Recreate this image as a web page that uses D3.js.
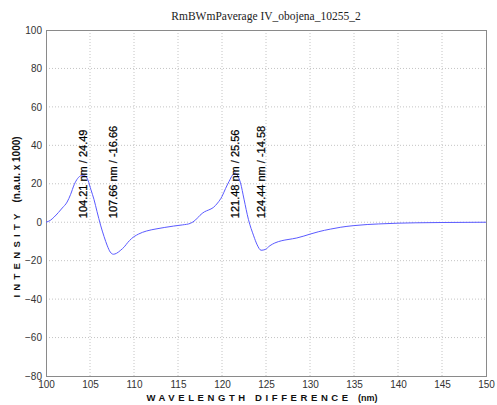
<!DOCTYPE html>
<html>
<head>
<meta charset="utf-8">
<script src="https://cdn.jsdelivr.net/npm/d3@7/dist/d3.min.js"></script>
<style>
  html, body { margin: 0; padding: 0; background: #fff; }
  svg { display: block; }
  .tick text { font-family: Arial, "Liberation Sans", sans-serif; font-size: 10px; fill: #333; }
</style>
</head>
<body>
<svg id="chart" width="497" height="405"></svg>
<script>
// Spectrum: wavelength difference (nm) vs intensity (n.a.u. x 1000)
const wavelength = [100, 100.5, 100.9, 101.4, 101.85, 102.4, 102.8, 103.2, 103.6, 104.0, 104.21, 104.5, 104.8, 105.1,
  105.45, 105.8, 106.2, 106.6, 106.97, 107.3, 107.66, 108.0, 108.5, 108.9, 109.3, 109.7, 110.5, 111.4, 112.5, 113.5,
  114.5, 115.5, 116.4, 117.0, 117.5, 118.0, 118.5, 119.0, 119.5, 120.0, 120.4, 120.8, 121.2, 121.48, 121.8, 122.1,
  122.5, 123.0, 123.6, 124.0, 124.44, 124.9, 125.45, 126.0, 126.8, 127.5, 128.5, 129.3, 130.0, 131.0, 132.3, 133.5,
  134.9, 136.5, 137.8, 140, 142, 145, 150];
const intensity = [0, 1, 2.6, 5, 7.4, 10.5, 14.5, 19.5, 22.8, 24.3, 24.49, 24.0, 21.5, 17,
  11.9, 5.5, -1.5, -7.5, -12.3, -15.5, -16.66, -16.2, -14.5, -12.8, -10.5, -8.6, -6.2, -4.6, -3.5, -2.7,
  -2, -1.4, -0.6, 1.2, 3.6, 5.4, 6.4, 7.6, 10, 13.4, 17.5, 21.2, 24.5, 25.56, 24.0, 20.5,
  12, 1.5, -7.1, -11.8, -14.58, -14.2, -12.2, -10.8, -9.6, -9.0, -8.2, -7.2, -6.2, -4.9, -3.6, -2.6,
  -1.8, -1.2, -0.9, -0.5, -0.3, -0.15, 0];

// Annotated extrema
const peakX = [104.21, 107.66, 121.48, 124.44];
const peakY = [24.49, -16.66, 25.56, -14.58];

const xTicks = [100, 105, 110, 115, 120, 125, 130, 135, 140, 145, 150];
const yTicks = [-80, -60, -40, -20, 0, 20, 40, 60, 80, 100];

const titleText = "RmBWmPaverage IV_obojena_10255_2";

const margin = { left: 46, right: 11, top: 30, bottom: 29 };
const W = 497, H = 405;
const svg = d3.select("#chart");

const x = d3.scaleLinear().domain([100, 150]).range([margin.left, W - margin.right]);
const y = d3.scaleLinear().domain([-80, 100]).range([H - margin.bottom, margin.top]);

// grid
const grid = svg.append("g");
grid.selectAll(".gx").data(xTicks.slice(1, -1)).join("line")
  .attr("x1", d => x(d)).attr("x2", d => x(d))
  .attr("y1", y(-80)).attr("y2", y(100))
  .attr("stroke", "#c4c4c4").attr("stroke-width", 1).attr("stroke-dasharray", "1,2");
grid.selectAll(".gy").data(yTicks.slice(1, -1)).join("line")
  .attr("x1", x(100)).attr("x2", x(150))
  .attr("y1", d => y(d)).attr("y2", d => y(d))
  .attr("stroke", "#c4c4c4").attr("stroke-width", 1).attr("stroke-dasharray", "1,2");

// axes
const xAxis = svg.append("g").attr("transform", `translate(0,${y(-80)})`)
  .call(d3.axisBottom(x).tickValues(xTicks).tickSize(0).tickPadding(5).tickFormat(d3.format("d")));
const yAxis = svg.append("g").attr("transform", `translate(${x(100)},0)`)
  .call(d3.axisLeft(y).tickValues(yTicks).tickSize(0).tickPadding(4).tickFormat(d3.format("d")));
[xAxis, yAxis].forEach(a => a.select(".domain").remove());

// frame
svg.append("rect")
  .attr("x", x(100) + 0.5).attr("y", y(100) + 0.5)
  .attr("width", x(150) - x(100)).attr("height", y(-80) - y(100))
  .attr("fill", "none").attr("stroke", "#8a8a8a").attr("stroke-width", 1);

// curve
const pts = wavelength.map((w, i) => [w, intensity[i]]);
svg.append("path")
  .datum(pts)
  .attr("fill", "none")
  .attr("stroke", "#5a5aff")
  .attr("stroke-width", 1)
  .attr("d", d3.line().x(d => x(d[0])).y(d => y(d[1])).curve(d3.curveMonotoneX));

// extrema labels
svg.append("g").selectAll("text").data(peakX).join("text")
  .attr("transform", d => `translate(${x(d)},${y(0) - 4}) rotate(-90)`)
  .attr("dy", "0.35em")
  .attr("font-family", "Arial, 'Liberation Sans', sans-serif")
  .attr("font-size", "11px")
  .attr("fill", "#000")
  .attr("stroke", "#000").attr("stroke-width", 0.25)
  .text((d, i) => `${d.toFixed(2)} nm / ${peakY[i].toFixed(2)}`);

// title
svg.append("text")
  .attr("x", (x(100) + x(150)) / 2).attr("y", 20)
  .attr("text-anchor", "middle")
  .attr("font-family", "'Times New Roman', 'Liberation Serif', serif")
  .attr("font-size", "11.5px")
  .attr("fill", "#222")
  .text(titleText);

// x axis label
const xl = svg.append("text")
  .attr("x", 262).attr("y", 401)
  .attr("text-anchor", "middle")
  .attr("font-family", "Arial, 'Liberation Sans', sans-serif")
  .attr("font-weight", "bold")
  .attr("fill", "#111");
xl.append("tspan").attr("font-size", "9.5px").attr("letter-spacing", "3.6px").text("WAVELENGTH DIFFERENCE ");
xl.append("tspan").attr("font-size", "9px").text("(nm)");

// y axis label
const yl = svg.append("text")
  .attr("transform", `translate(20,217) rotate(-90)`)
  .attr("text-anchor", "middle")
  .attr("font-family", "Arial, 'Liberation Sans', sans-serif")
  .attr("font-weight", "bold")
  .attr("fill", "#111");
yl.append("tspan").attr("font-size", "9.5px").attr("letter-spacing", "4.3px").text("INTENSITY ");
yl.append("tspan").attr("font-size", "10px").text("(n.a.u. x 1000)");
</script>
</body>
</html>
